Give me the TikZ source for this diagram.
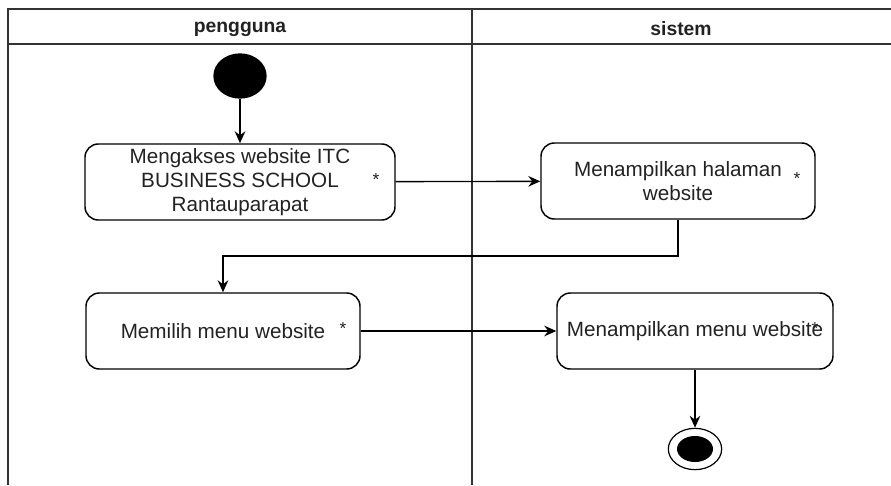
\documentclass[tikz,border=0pt]{standalone}
\usepackage{fontspec}
\setmainfont{Liberation Sans}
\usetikzlibrary{arrows.meta,shapes.geometric}
\definecolor{lane}{HTML}{333333}
\definecolor{ink}{HTML}{222222}
\begin{document}
\begin{tikzpicture}[x=0.75pt,y=-0.75pt,
    lanes/.style={draw=lane,line width=1.6pt},
    lanehead/.style={font=\fontsize{14.5}{17}\selectfont\bfseries,text=ink},
    action/.style={draw=black,line width=1.1pt,rounded corners=10pt,
      minimum width=#1,minimum height=57pt,align=center,inner sep=0pt,
      font=\fontsize{15.5}{18}\selectfont,text=ink},
    star/.style={font=\fontsize{13}{13}\selectfont,text=ink,inner sep=0pt},
    flow/.style={draw=black,line width=1pt,-{Stealth[length=9pt,width=8pt,inset=3pt]}}]
  \useasboundingbox (0,0) rectangle (891,485);

  % swimlanes
  \draw[lanes] (8,485) -- (8,9) -- (891,9);
  \draw[lanes] (8,44) -- (891,44);
  \draw[lanes] (472,9) -- (472,485);
  \node[lanehead] (pengguna) at (240,29) {pengguna};
  \node[lanehead] (sistem) at (681,29) {sistem};

  % start
  \node[fill=black,ellipse,minimum width=40pt,minimum height=34pt,inner sep=0pt] (mulai) at (240,76) {};

  % actions
  \node[action=232.5pt] (akses) at (240,182) {Mengakses website ITC\\BUSINESS SCHOOL\\Rantauparapat};
  \node[star] at (376,180) {*};
  \node[action=205.5pt] (halaman) at (678,181) {Menampilkan halaman\\website};
  \node[star] at (797,179) {*};
  \node[action=205.5pt] (pilih) at (223,331) {Memilih menu website};
  \node[star] at (343,329) {*};
  \node[action=207pt] (menu) at (695,331) {Menampilkan menu website};
  \node[star] at (815,329) {*};

  % end
  \node[draw=black,line width=0.9pt,ellipse,minimum width=40pt,minimum height=31pt,inner sep=0pt] (selesai) at (695,449) {};
  \node[fill=black,ellipse,minimum width=27pt,minimum height=19.5pt,inner sep=0pt] (titik) at (695,449) {};

  % flows
  \draw[flow] (mulai) -- (akses);
  \draw[flow] (akses) -- (halaman);
  \coordinate (belok) at (678,256);
  \draw[flow] (halaman.south) -- (belok) -| (pilih.north);
  \draw[flow] (pilih) -- (menu);
  \draw[flow] (menu) -- (selesai);
\end{tikzpicture}
\end{document}
